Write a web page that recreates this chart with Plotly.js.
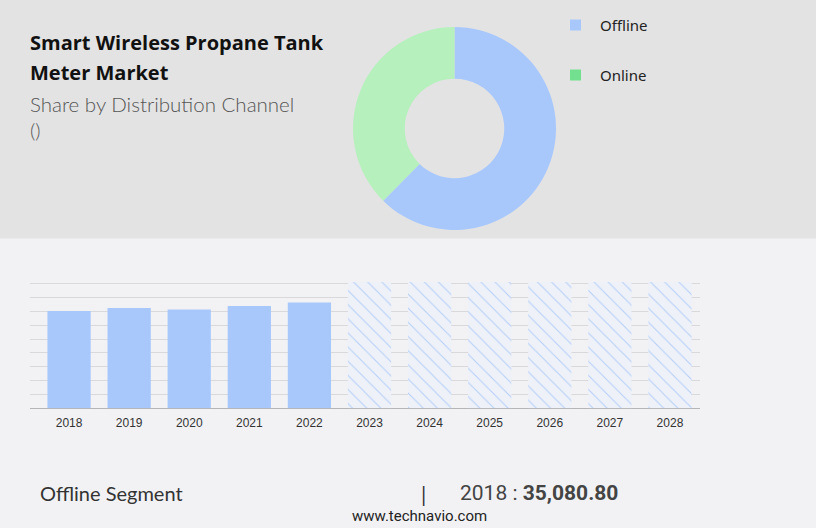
<!DOCTYPE html>
<html>
<head>
<meta charset="utf-8">
<script src="https://cdn.plot.ly/plotly-3.0.1.min.js"></script>
<style>html,body{margin:0;padding:0;background:#f2f2f4;}#chart{width:816px;height:528px;}</style>
</head>
<body>
<div id="chart"></div>
<script>
// ---- data ----
var histYears = ["2018", "2019", "2020", "2021", "2022"];
var histValues = [35080.80, 36200, 35700, 36900, 38200];
var forecastYears = ["2023", "2024", "2025", "2026", "2027", "2028"];
var forecastValues = [45600, 45600, 45600, 45600, 45600, 45600];
var channelLabels = ["Offline", "Online"];
var channelShares = [62.4, 37.6];
var pieColors = ["#a8c8fc", "#b6f0bc"];
var legendColors = ["#a8c8fc", "#72e08f"];

var W = 816, H = 528;
function px(x) { return x / W; }
function py(y) { return 1 - y / H; }

var traces = [
  {
    type: "bar", x: histYears, y: histValues,
    marker: { color: "#a8c8fc", line: { width: 0 } },
    hoverinfo: "x+y", showlegend: false
  },
  {
    type: "bar", x: forecastYears, y: forecastValues,
    marker: {
      color: "#eef1f8", line: { width: 0 },
      pattern: { shape: "\\", fgcolor: "#b4cff8", bgcolor: "#eef1f8", size: 10, solidity: 0.1 }
    },
    hoverinfo: "x", showlegend: false
  },
  {
    type: "pie", labels: channelLabels, values: channelShares,
    hole: 0.49, sort: false, direction: "clockwise", rotation: 0,
    marker: { colors: pieColors, line: { width: 0 } },
    textinfo: "none", hoverinfo: "label+percent", showlegend: false,
    domain: { x: [px(352), px(557)], y: [py(230), py(27)] }
  }
];

var annotations = [
  { text: "<b>Smart Wireless Propane Tank</b>", x: px(28), y: py(43), xanchor: "left", yanchor: "middle",
    font: { family: "Open Sans, sans-serif", size: 20, color: "#111" } },
  { text: "<b>Meter Market</b>", x: px(28), y: py(73), xanchor: "left", yanchor: "middle",
    font: { family: "Open Sans, sans-serif", size: 20, color: "#111" } },
  { text: "Share by Distribution Channel", x: px(28), y: py(104), xanchor: "left", yanchor: "middle",
    font: { family: "Lato, sans-serif", size: 20.5, color: "#555", weight: 300 } },
  { text: "()", x: px(28), y: py(130), xanchor: "left", yanchor: "middle",
    font: { family: "Lato, sans-serif", size: 20.5, color: "#555", weight: 300 } },
  { text: channelLabels[0], x: px(598), y: py(25), xanchor: "left", yanchor: "middle",
    font: { family: "Noto Sans, sans-serif", size: 15, color: "#222" } },
  { text: channelLabels[1], x: px(598), y: py(75), xanchor: "left", yanchor: "middle",
    font: { family: "Noto Sans, sans-serif", size: 15, color: "#222" } },
  { text: "Offline Segment", x: px(38), y: py(493), xanchor: "left", yanchor: "middle",
    font: { family: "Lato, sans-serif", size: 20, color: "#333" } },
  { text: "|", x: px(423), y: py(493), xanchor: "center", yanchor: "middle",
    font: { family: "Lato, sans-serif", size: 21, color: "#333" } },
  { text: "2018 : <b>" + histValues[0].toLocaleString("en-US", { minimumFractionDigits: 2 }) + "</b>",
    x: px(458), y: py(493), xanchor: "left", yanchor: "middle",
    font: { family: "Roboto, sans-serif", size: 21, color: "#444" } },
  { text: "www.technavio.com", x: px(420), y: py(516), xanchor: "center", yanchor: "middle",
    font: { family: "Roboto, sans-serif", size: 15, color: "#222" } }
];
annotations.forEach(function (a) { a.xref = "paper"; a.yref = "paper"; a.showarrow = false; });

var shapes = [
  { type: "rect", xref: "paper", yref: "paper", x0: 0, x1: 1, y0: py(238.5), y1: 1,
    fillcolor: "#e3e3e3", line: { width: 0 }, layer: "below" },
  { type: "rect", xref: "paper", yref: "paper", x0: px(570), x1: px(581), y0: py(30.5), y1: py(19.5),
    fillcolor: legendColors[0], line: { width: 0 } },
  { type: "rect", xref: "paper", yref: "paper", x0: px(570), x1: px(581), y0: py(80.5), y1: py(69.5),
    fillcolor: legendColors[1], line: { width: 0 } }
];

var layout = {
  width: W, height: H,
  margin: { l: 0, r: 0, t: 0, b: 0 },
  paper_bgcolor: "#f2f2f4", plot_bgcolor: "rgba(0,0,0,0)",
  barmode: "overlay", bargap: 0.28,
  showlegend: false,
  xaxis: {
    type: "category", domain: [px(30), px(700)], range: [-0.65, 10.5],
    categoryorder: "array", categoryarray: histYears.concat(forecastYears),
    showgrid: false, zeroline: false, showline: false, ticks: "",
    ticklabelstandoff: 6,
    tickfont: { family: "Liberation Sans, Arial, sans-serif", size: 12, color: "#333" },
    anchor: "y", fixedrange: true
  },
  yaxis: {
    domain: [py(408.3), py(269.5)], range: [0, 50100], dtick: 5000,
    showgrid: true, gridcolor: "#d9d9db", gridwidth: 1,
    zeroline: true, zerolinecolor: "#b5b5b5", zerolinewidth: 1,
    showticklabels: false, ticks: "", fixedrange: true
  },
  annotations: annotations,
  shapes: shapes
};

Plotly.newPlot("chart", traces, layout, { displayModeBar: false, staticPlot: true });
</script>
</body>
</html>
